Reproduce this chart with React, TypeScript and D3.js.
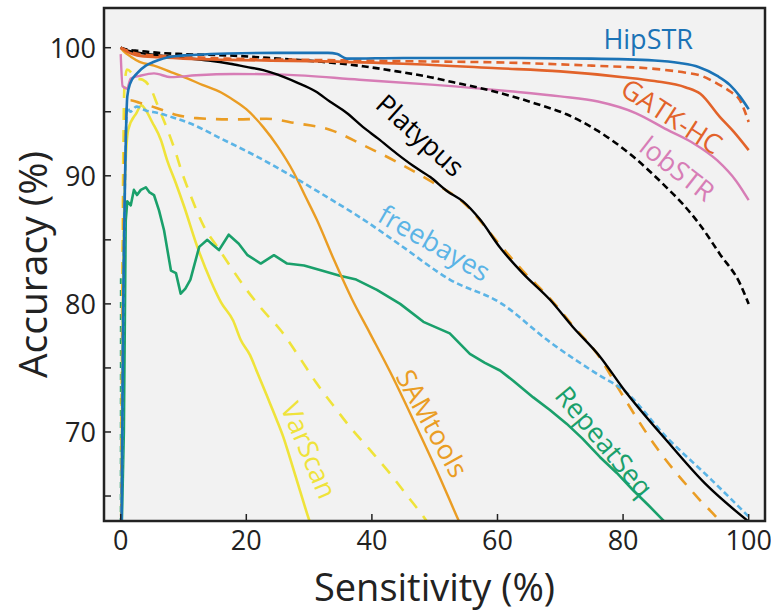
import React from "react";
import * as d3 from "d3";

type Pt = [number, number];

// sensitivity (%) / accuracy (%) pairs
const hipstr: Pt[] = [[0.1,60],[0.4,80],[0.7,90],[1.05,96.2],[1.5,97.2],[2.6,98],[4,98.6],[5.3,98.9],[8,99.3],[12,99.45],[17,99.55],[25,99.6],[33,99.6],[34.5,99.5],[36,99.15],[45,99.2],[60,99.2],[75,99.15],[85,99.0],[89,98.8],[92,98.5],[95,97.8],[97,97.1],[98.6,96.2],[100,95.2]];
const gatkSolid: Pt[] = [[0,100],[1,99.7],[2.6,99.4],[6,99.25],[10,99.15],[17,99.05],[30,98.95],[45,98.75],[60,98.4],[70,98.15],[80,97.7],[85,97.4],[90,96.9],[92.3,96.4],[95.4,94.6],[97.5,93.5],[100,92.0]];
const gatkDashed: Pt[] = [[0,100],[2,99.6],[5,99.4],[10,99.3],[17,99.15],[30,99.05],[45,98.95],[62,98.83],[75,98.6],[85,98.35],[90,98.05],[92.2,97.85],[95,97.2],[97,96.6],[98.6,95.9],[100,94.2]];
const lobstr: Pt[] = [[0,99.5],[0.3,97],[1,96.8],[1.6,97.6],[3,97.8],[5.3,98.0],[8,97.7],[12,97.85],[18,97.95],[26,97.9],[38,97.5],[50,97.1],[62,96.6],[70,96.2],[76,95.8],[82,94.9],[87,93.6],[91,92.6],[95,91.2],[98,89.6],[100,88.1]];
const platypusSolid: Pt[] = [[0,100],[1,99.8],[3,99.6],[6,99.4],[10,99.2],[14,99.0],[17.4,98.75],[20,98.5],[22.7,98.25],[25,97.9],[28,97.3],[31,96.6],[33.3,95.8],[36,94.9],[38.6,93.8],[41,92.9],[43.9,91.75],[46.5,90.8],[49.3,89.9],[52,88.8],[54.5,88.0],[57.2,86.6],[60.4,84.4],[64,82.4],[68.4,80.3],[72,78.2],[76.3,75.9],[80,73.4],[86.9,69.35],[93,66.0],[100,63.0]];
const platypusDashed: Pt[] = [[0,100],[1,99.85],[3,99.75],[6,99.6],[10,99.5],[17,99.4],[25,99.15],[32,98.9],[38.6,98.55],[44,98.15],[49.3,97.7],[53,97.3],[57.2,96.85],[62,96.25],[66,95.65],[71,94.8],[76,93.5],[81.6,91.5],[86.9,89.1],[89.5,87.8],[92.2,86.2],[95.4,83.9],[98.6,81.6],[100,80.0]];
const freebayes: Pt[] = [[0.1,60],[0.4,80],[0.7,90],[1,95.4],[1.5,95.0],[2.5,95.4],[4,95.1],[6,94.9],[8,94.6],[11,94.1],[16,92.9],[21.7,91.5],[27,90.05],[33,88.3],[38.6,86.6],[44.5,84.6],[52.4,81.9],[60.4,80.1],[68.4,77.0],[76.3,74.4],[80,73.3],[86.9,69.6],[94,66.3],[100,63.4]];
const samSolid: Pt[] = [[0,100],[0.5,99.7],[1.6,99.3],[3,98.9],[5.3,98.6],[8,98.1],[10.6,97.6],[13,97.1],[16,96.5],[18,95.9],[20,95.2],[22.7,93.8],[25,92.3],[27.5,90.3],[29.4,88.4],[31.2,86.6],[34,83.4],[36.8,80.4],[39.7,77.7],[43,74.6],[47.1,70.4],[50.5,66.8],[53.8,63.1],[55,61.8]];
const samDashed: Pt[] = [[0.05,60],[0.4,85],[0.7,93],[1.0,95.7],[1.5,95.9],[3,95.7],[5.7,95.3],[8.9,94.75],[12.1,94.5],[17.9,94.4],[23.2,94.45],[28,94.1],[33.3,93.6],[38.6,92.4],[43.9,91.1],[49.3,89.6],[54.6,87.9],[60.4,84.6],[64,82.6],[68.4,80.4],[72,78.3],[76.3,75.8],[79,73.6],[85.3,68.8],[92.2,64.7],[95.4,63.0],[96.5,62.2]];
const repeatSeq: Pt[] = [[0.05,60],[0.5,70],[0.8,86.5],[1.05,88],[1.6,87.7],[2.1,88.9],[2.6,88.5],[3.2,88.9],[4,89.1],[4.6,88.7],[5.3,88.5],[6.1,87.3],[6.9,85.75],[8,82.6],[8.8,82.4],[9.55,80.8],[10.3,81.2],[11.1,81.9],[12.5,84.45],[13.8,85.0],[14.7,84.6],[15.65,84.2],[17.2,85.4],[18.8,84.7],[20.2,83.8],[22.3,83.15],[24.4,83.8],[26.5,83.15],[29.2,83.0],[32,82.6],[34.9,82.2],[37.5,81.9],[40.8,81.1],[44.5,80.0],[48.2,78.6],[52.4,77.7],[55.6,76.1],[58,75.4],[60.4,74.8],[62.5,74.0],[65.7,72.7],[68.4,71.7],[71,70.65],[73.5,69.5],[76.3,68.05],[79,66.8],[81.6,65.45],[84,64.3],[86.4,63.1],[87.5,62.4]];
const repeatSeqDashed: Pt[] = [[0,60],[0.02,82]];
const varscanSolid: Pt[] = [[0.05,60],[0.3,78],[0.7,90],[1.2,93.6],[2.5,94.9],[3.3,95.5],[3.9,95.2],[5,94.2],[6.4,92.8],[7.4,91.2],[8.8,89.4],[10.1,87.6],[12.2,84.45],[14.3,81.85],[16,80.1],[17.9,78.7],[19.1,77.2],[20.6,76.0],[21.7,74.7],[23.3,72.8],[24.8,71.0],[25.9,69.6],[27,67.9],[28.5,65.5],[30.1,63.0],[31,61.8]];
const varscanDashed: Pt[] = [[0.05,60],[0.3,85],[0.6,97],[1,98.3],[2,97.9],[2.6,97.6],[3.5,97.5],[4.8,96.8],[5.8,95.6],[6.8,94.4],[7.6,93.4],[8.7,91.9],[9.8,90.2],[11.1,88.5],[13.3,86.0],[15.4,84.45],[17.5,82.9],[19.6,81.4],[22.3,79.7],[25.7,77.8],[28.5,75.8],[31.2,73.8],[33.8,72.1],[36.5,70.4],[39.7,68.6],[42.9,66.75],[45.5,65.1],[48.2,63.4],[49.5,62.5]];

const xTicks = [0, 20, 40, 60, 80, 100];
const yTicks = [65, 70, 75, 80, 85, 90, 95, 100];
const yLabels = [70, 80, 90, 100];

const C = {
  hipstr: "#1b73b6",
  gatk: "#e2632a",
  lobstr: "#d77db6",
  platypus: "#000000",
  freebayes: "#5bb4e6",
  sam: "#ea9d24",
  repeat: "#1aa06b",
  varscan: "#efe33a",
};

const series = [
  { data: repeatSeqDashed, color: C.repeat, dash: "6,6", w: 2 },
  { data: varscanSolid, color: C.varscan, dash: null, w: 2.6 },
  { data: varscanDashed, color: C.varscan, dash: "12,10", w: 2.6 },
  { data: repeatSeq, color: C.repeat, dash: null, w: 2.6, linear: true },
  { data: samSolid, color: C.sam, dash: null, w: 2.4 },
  { data: samDashed, color: C.sam, dash: "12,10", w: 2.6 },
  { data: freebayes, color: C.freebayes, dash: "6,3.5", w: 2.6 },
  { data: lobstr, color: C.lobstr, dash: null, w: 2.4 },
  { data: platypusDashed, color: C.platypus, dash: "7,4", w: 2.6 },
  { data: platypusSolid, color: C.platypus, dash: null, w: 2.4 },
  { data: gatkSolid, color: C.gatk, dash: null, w: 2.6 },
  { data: gatkDashed, color: C.gatk, dash: "8,5", w: 2.6 },
  { data: hipstr, color: C.hipstr, dash: null, w: 2.6 },
];

const labels = [
  { text: "HipSTR", color: C.hipstr, x: 84, y: 100.75, rot: 0 },
  { text: "GATK-HC", color: C.gatk, x: 87.8, y: 94.7, rot: 33 },
  { text: "lobSTR", color: C.lobstr, x: 88.7, y: 90.6, rot: 38 },
  { text: "Platypus", color: C.platypus, x: 47.8, y: 93.2, rot: 42 },
  { text: "freebayes", color: C.freebayes, x: 50, y: 84.8, rot: 30 },
  { text: "SAMtools", color: C.sam, x: 49.7, y: 70.7, rot: 61 },
  { text: "RepeatSeq", color: C.repeat, x: 77.1, y: 69.3, rot: 50 },
  { text: "VarScan", color: C.varscan, x: 30.1, y: 68.6, rot: 67 },
];

const W = 771;
const H = 614;
const L = 104, R = 765, T = 8, B = 521;
const FONT = "'Open Sans', 'Noto Sans', sans-serif";

export default function App() {
  const x = d3.scaleLinear().domain([-2.66, 102.6]).range([L, R]);
  const y = d3.scaleLinear().domain([63.05, 103.1]).range([B, T]);

  const mk = (linear?: boolean) =>
    d3
      .line<Pt>()
      .x((d) => x(d[0]))
      .y((d) => y(d[1]))
      .curve(linear ? d3.curveLinear : d3.curveMonotoneX);

  return (
    <svg width={W} height={H} style={{ position: "absolute", left: 0, top: 0, background: "#fff" }} fontFamily={FONT}>
      <defs>
        <clipPath id="plot">
          <rect x={L} y={T} width={R - L} height={B - T} />
        </clipPath>
      </defs>
      <rect x={L} y={T} width={R - L} height={B - T} fill="#f2f2f2" />
      <g clipPath="url(#plot)">
        {series.map((s, i) => (
          <path
            key={i}
            d={mk(s.linear)(s.data) || ""}
            fill="none"
            stroke={s.color}
            strokeWidth={s.w}
            strokeDasharray={s.dash || undefined}
            strokeLinejoin="round"
          />
        ))}
      </g>
      {labels.map((l) => (
        <text
          key={l.text}
          transform={`translate(${x(l.x)},${y(l.y)}) rotate(${l.rot})`}
          textAnchor="middle"
          dominantBaseline="central"
          fontSize={27}
          fill={l.color}
        >
          {l.text}
        </text>
      ))}
      {yTicks.map((t) => (
        <line key={"yt" + t} x1={L} x2={L + 7} y1={y(t)} y2={y(t)} stroke="#222" strokeWidth={1.5} />
      ))}
      {xTicks.map((t) => (
        <line key={"xt" + t} x1={x(t)} x2={x(t)} y1={B} y2={B - 7} stroke="#222" strokeWidth={1.5} />
      ))}
      <rect x={L} y={T} width={R - L} height={B - T} fill="none" stroke="#222" strokeWidth={2.5} />
      {yLabels.map((t) => (
        <text key={"yl" + t} x={L - 8} y={y(t)} textAnchor="end" dominantBaseline="central" fontSize={27} fill="#222">
          {t}
        </text>
      ))}
      {xTicks.map((t) => (
        <text key={"xl" + t} x={x(t)} y={B + 29} textAnchor="middle" fontSize={27} fill="#222">
          {t}
        </text>
      ))}
      <text x={(L + R) / 2} y={601} textAnchor="middle" fontSize={38} fill="#222">
        Sensitivity (%)
      </text>
      <text
        transform={`translate(47,${(T + B) / 2}) rotate(-90)`}
        textAnchor="middle"
        fontSize={39}
        fill="#222"
      >
        Accuracy (%)
      </text>
    </svg>
  );
}
